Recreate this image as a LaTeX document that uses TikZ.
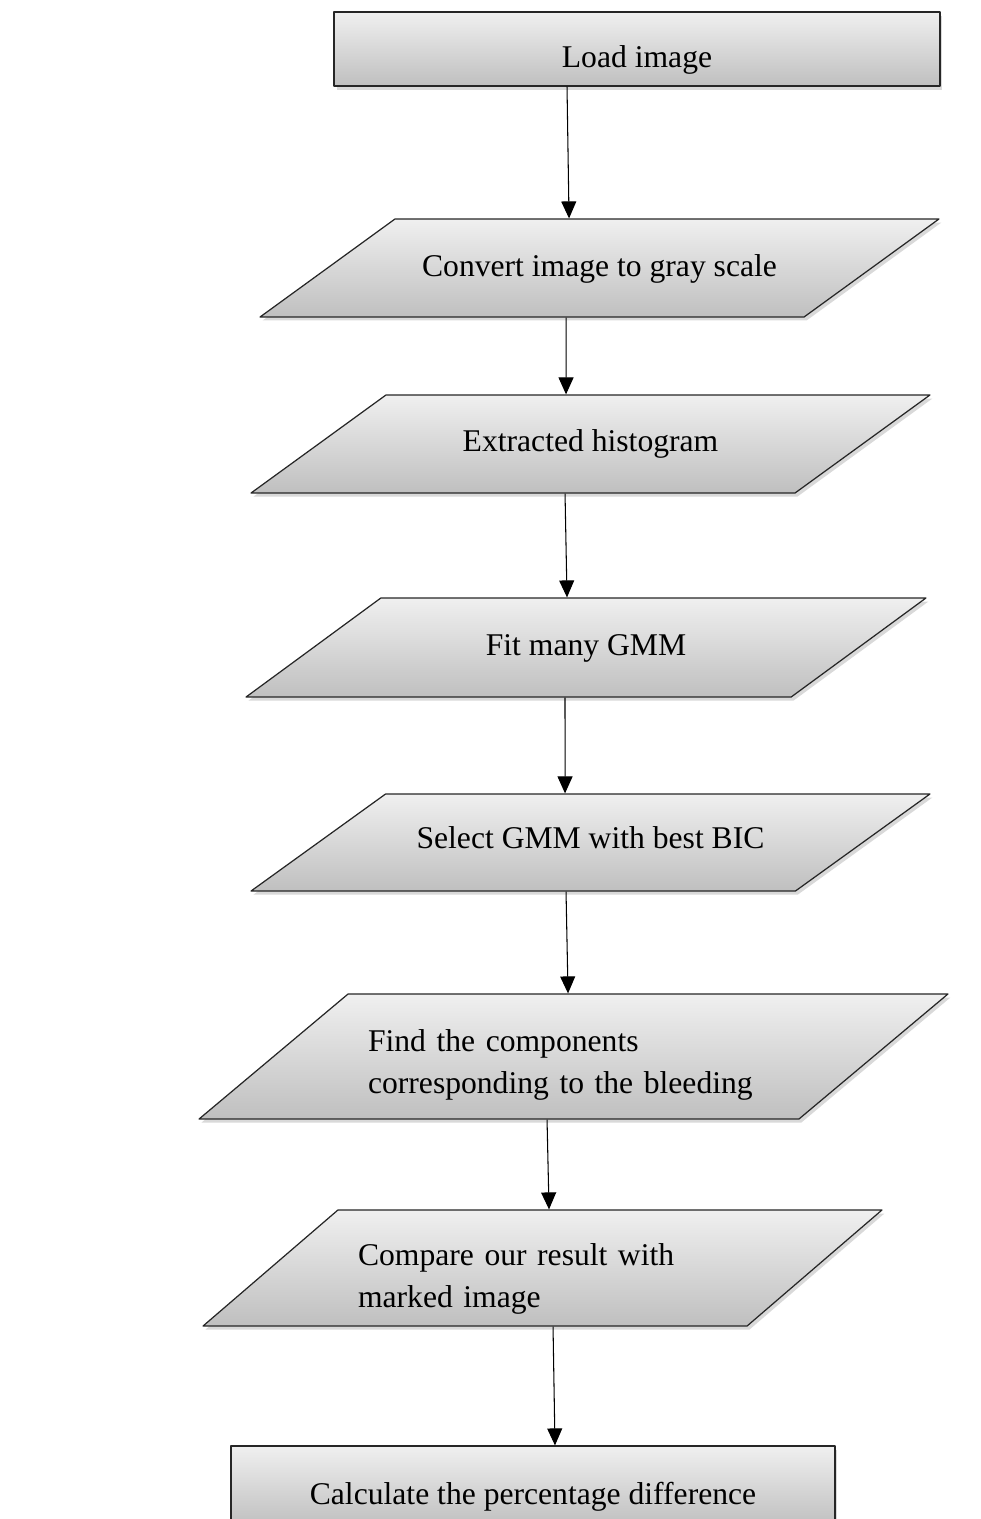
\documentclass[tikz,border=0pt]{standalone}
\usepackage{fontspec}
\setmainfont{Liberation Serif}
\usetikzlibrary{shapes.geometric,shadows,arrows.meta}

\begin{document}
\begin{tikzpicture}[x=0.02cm, y=-0.02cm, >={Triangle[length=0.34cm, width=0.3cm]}, line join=round]

    % Stili dei blocchi
    \tikzset{
      base/.style={draw=black!85, line width=0.7pt, top color=gray!12, bottom color=gray!50,
                   drop shadow={shadow xshift=0.05cm, shadow yshift=-0.07cm, opacity=0.3},
                   font=\fontsize{18}{24}\selectfont, inner sep=0pt},
      rectbox/.style={base, rectangle, text height=0.74cm, text depth=0cm},
      iobox/.style={base, trapezium, trapezium stretches body,
                    trapezium left angle=#1, trapezium right angle=180-#1},
      arr/.style={->, line width=0.6pt}
    }

    \useasboundingbox (0,0) rectangle (981,1519);

    % Nodi del diagramma
    \node[rectbox, minimum width=12.12cm, minimum height=1.48cm] (load) at (637,49) {Load image};
    \node[iobox=36, minimum width=13.58cm, minimum height=1.96cm, text height=1.15cm, text depth=0.81cm]
        (conv) at (599.5,268) {Convert image to gray scale};
    \node[iobox=36, minimum width=13.58cm, minimum height=1.96cm, text height=1.13cm, text depth=0.83cm]
        (hist) at (590.5,444) {Extracted histogram};
    \node[iobox=36.3, minimum width=13.6cm, minimum height=1.98cm, text height=1.15cm, text depth=0.83cm]
        (fit) at (586,647.5) {Fit many GMM};
    \node[iobox=35.8, minimum width=13.58cm, minimum height=1.94cm, text height=1.09cm, text depth=0.85cm]
        (bic) at (590.5,842.5) {Select GMM with best BIC};
    \node[iobox=40, minimum width=14.98cm, minimum height=2.5cm, text height=1.15cm, text depth=1.35cm,
          text width=8.22cm, align=left] (comp) at (573.5,1056.5)
        {Find the components\\corresponding to the bleeding};
    \node[iobox=40.7, minimum width=13.58cm, minimum height=2.32cm, text height=1.11cm, text depth=1.21cm,
          text width=7.38cm, align=left] (cmp) at (542.5,1268)
        {Compare our result with\\marked image};
    \node[rectbox, minimum width=12.08cm, minimum height=1.6cm] (calc) at (533,1486) {Calculate the percentage difference};

    % Frecce
    \draw[arr] ([xshift=-1.40cm]load.south) -- ([xshift=-0.61cm]conv.north);
    \draw[arr] ([xshift=-0.67cm]conv.south) -- ([xshift=-0.49cm]hist.north);
    \draw[arr] ([xshift=-0.51cm]hist.south) -- ([xshift=-0.38cm]fit.north);
    \draw[arr] ([xshift=-0.42cm]fit.south) -- ([xshift=-0.51cm]bic.north);
    \draw[arr] ([xshift=-0.49cm]bic.south) -- ([xshift=-0.11cm]comp.north);
    \draw[arr] ([xshift=-0.53cm]comp.south) -- ([xshift=0.13cm]cmp.north);
    \draw[arr] ([xshift=0.21cm]cmp.south) -- ([xshift=0.44cm]calc.north);

\end{tikzpicture}
\end{document}
